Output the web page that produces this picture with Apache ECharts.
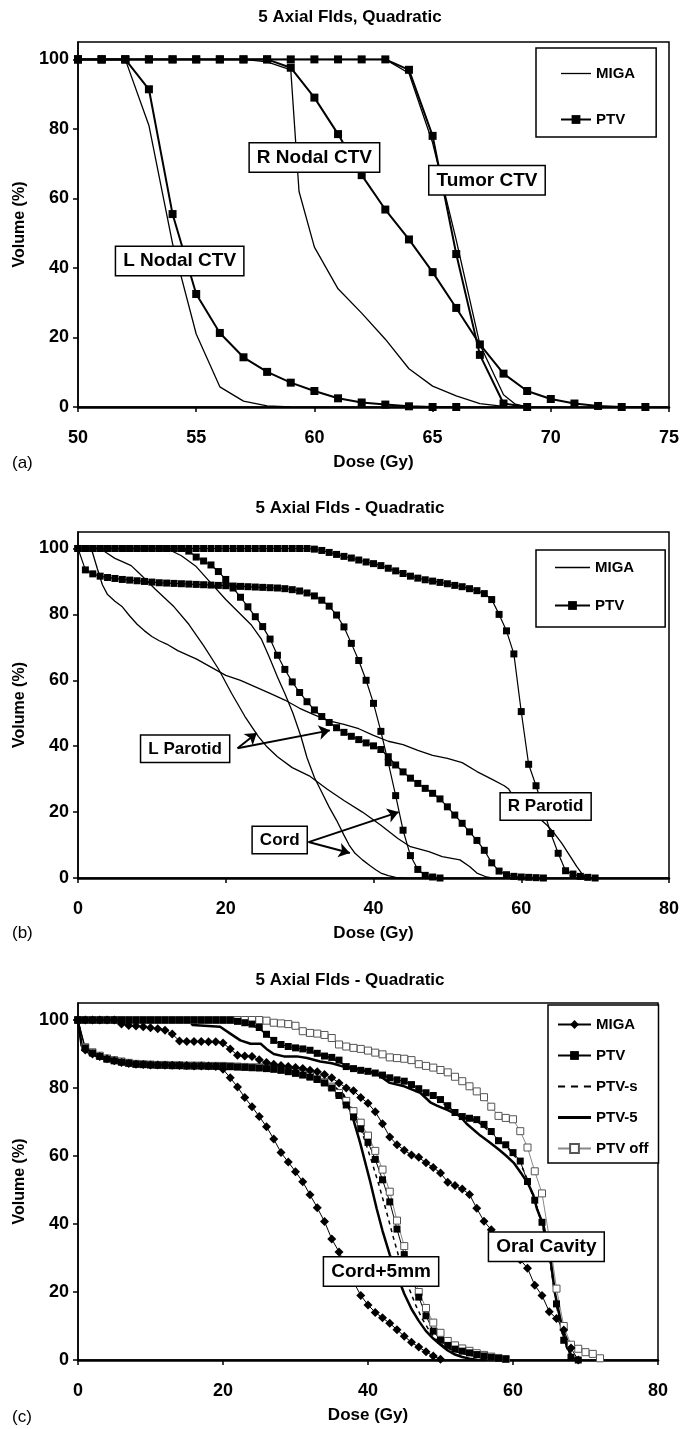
<!DOCTYPE html>
<html><head><meta charset="utf-8">
<script src="https://cdn.jsdelivr.net/npm/echarts@6/dist/echarts.min.js"></script>
<style>body{margin:0;background:#fff}.c{position:absolute;left:0;width:684px}</style>
</head><body>
<div id="ca" class="c" style="top:0;height:476px"></div>
<div id="cb" class="c" style="top:476px;height:476px"></div>
<div id="cc" class="c" style="top:952px;height:477px"></div>
<script>
// ---------------- DATA ----------------
const titleA = '5 Axial Flds, Quadratic';
const titleB = '5 Axial Flds - Quadratic';
const titleC = '5 Axial Flds - Quadratic';
const xNameAll = 'Dose (Gy)';
const yNameAll = 'Volume (%)';
const yTicks = [0, 20, 40, 60, 80, 100];
const xTicksA = [50, 55, 60, 65, 70, 75];
const xTicksBC = [0, 20, 40, 60, 80];

// panel (a)
const doseA = [50,51,52,53,54,55,56,57,58,59,60,61,62,63,64,65,66,67,68,69,70,71,72,73,74];
const aLNodalPTV = [100,100,100,91.4,55.5,32.5,21.3,14.3,10.1,7,4.6,2.5,1.3,0.7,0.2,0,0];
const aRNodalPTV = [100,100,100,100,100,100,100,100,100,97.6,89,78.5,66.7,56.8,48.2,38.8,28.5,18,9.6,4.6,2.3,1,0.3,0,0];
const aTumorPTV = [100,100,100,100,100,100,100,100,100,100,100,100,100,100,97,78,44,15,1,0];
const aLNodalMIGA = [[50,100],[52,100],[53,81],[54,47],[55,21],[56,5.8],[57,1.7],[58,0.3],[59,0]];
const aRNodalMIGA = [[50,100],[57,100],[58,99.3],[59,97],[59.35,62],[60,46],[61,34],[62,27],[63,19.5],[64,11],[65,6],[66,3.2],[67,1],[68,0.2],[69,0]];
const aTumorMIGA = [[50,100],[63,100],[64,96],[65,76],[66,48],[67,18],[68,3.5],[68.5,0.8],[69,0]];
const aNotes = [['R Nodal CTV', 60, 71.8], ['Tumor CTV', 67.3, 65.2], ['L Nodal CTV', 54.3, 42]];

// panel (b)
const doseB = [0,1,2,3,4,5,6,7,8,9,10,11,12,13,14,15,16,17,18,19,20,21,22,23,24,25,26,27,28,29,30,31,32,33,34,35,36,37,38,39,40,41,42,43,44,45,46,47,48,49,50,51,52,53,54,55,56,57,58,59,60,61,62,63,64,65,66,67,68,69,70];
const bRParotidPTV = [100,100,100,100,100,100,100,100,100,100,
  100,100,100,100,100,100,100,100,100,100,
  100,100,100,100,100,100,100,100,100,100,
  100,100,99.8,99.4,98.8,98.2,97.6,97.1,96.5,95.9,
  95.4,94.8,94,93.2,92.4,91.6,91,90.5,90.1,89.7,
  89.3,88.8,88.4,87.8,87.2,86.3,84.5,80,75,68,
  50.5,34.5,28,21,13.5,7.5,2.2,1.2,0.5,0.2,0];
const bLParotidPTV = [100,100,100,100,100,100,100,100,100,100,100,100,100,100,100,
  99.2,97.4,96.2,95,93,
  90.6,88,85.2,82.3,79.3,76.3,72.5,67.6,63.3,59.5,
  56.3,53.5,51,49,47.2,45.6,44.2,43,42,41,
  40.1,39,36.8,34.3,32.2,30.3,28.7,27.2,25.7,24,
  21.6,19.1,16.6,14,11.4,8.4,4.6,2.1,1,0.5,
  0.3,0.2,0.1,0];
const bCordPTV = [100,93.5,92.3,91.6,91.2,90.9,90.6,90.4,90.2,90,
  89.8,89.6,89.5,89.4,89.3,89.2,89.1,89,88.9,88.8,
  88.7,88.6,88.5,88.4,88.3,88.2,88.1,88,87.8,87.5,
  87.1,86.5,85.6,84.3,82.5,79.8,76.2,71.2,66,60,
  53,44.5,35,25,14.5,6.8,2.6,0.8,0.3,0];
const bRParotidMIGA = [[0,100],[1.8,100],[2.6,94],[3.3,89],[4,86],[5,84],[6,82.3],[7,79.5],[8,77],[9,75],[10,73.3],[11,72],[12,71],[13.5,69],[15,67.5],[16,66.5],[18,64],[20,61.5],[22,60],[24,58],[26,56],[28,54],[30,51.5],[32,49.5],[34,47.7],[36,46.6],[38,45.3],[40,43.3],[42,41.5],[44,40.5],[46,38.7],[48,37.2],[50,36.3],[52,35],[54,32.3],[56,30],[57.7,28],[58.3,27],[59.3,23.5],[60.5,21.5],[62,19],[63.5,16],[64.5,13.5],[65.5,10.5],[66.5,7],[67.5,3.5],[68.3,1],[69,0]];
const bLParotidMIGA = [[0,100],[3,100],[4,98.5],[5,97],[6,96],[7.2,94.8],[8.6,91.8],[10.4,87.8],[13,82.3],[15,77],[17,70.5],[19,63.5],[20.8,56],[22.6,49],[24.4,43],[25.5,40],[27,36.8],[29,33.5],[31.3,31],[33.7,27],[36,23.5],[38.5,20],[41,16],[43.3,12],[45,9.5],[47.5,8],[49.3,6.5],[51.7,5.5],[53,3.5],[54,1.5],[55.3,0.3],[56,0]];
const bCordMIGA = [[0,100],[12,100],[14,97.8],[16,94.5],[18,89.5],[20,84.5],[21.7,80.7],[23.5,76.7],[24.8,72.6],[25.9,67],[27,61],[28,56],[29.1,50],[30.2,42.8],[31,36.5],[32,30.5],[33,26],[34,21.5],[35,17.5],[36,13],[36.7,10],[37.5,7.5],[38.5,5.5],[39.5,3.8],[40.3,2.5],[41,1.5],[42,0.7],[43,0.2],[44,0]];
const bNotes = [['L Parotid', 14.5, 39.2], ['Cord', 27.3, 11.5], ['R Parotid', 63.3, 21.7]];
const bArrows = [[[21.6,39.4],[24.2,44]], [[21.6,39.4],[34.1,44.8]], [[31.2,10.9],[43.4,20]], [[31.2,10.9],[36.8,7.6]]];

// panel (c)
const doseC = [0,1,2,3,4,5,6,7,8,9,10,11,12,13,14,15,16,17,18,19,20,21,22,23,24,25,26,27,28,29,30,31,32,33,34,35,36,37,38,39,40,41,42,43,44,45,46,47,48,49,50,51,52,53,54,55,56,57,58,59,60,61,62,63,64,65,66,67,68,69,70,71,72];
const cCordMIGA = [100,91.2,90,89.3,88.6,88,87.5,87.2,87,86.9,
  86.8,86.8,86.7,86.7,86.6,86.6,86.5,86.5,86.5,86.3,
  85.5,83,80.3,77.2,74.5,71.6,68.6,65,61,58.2,
  55.4,52.4,48.6,44.8,40.7,35.6,31.8,27.5,23,19,
  16.2,14,12.4,10.8,8.9,7,5.2,3.8,2.4,1.2,0.2];
const cCordPTV = [100,91.8,90.3,89.3,88.5,88,87.6,87.3,87,86.9,
  86.8,86.7,86.7,86.6,86.6,86.5,86.5,86.5,86.4,86.4,
  86.4,86.3,86.2,86.1,86,85.9,85.7,85.5,85.2,84.8,
  84.3,83.8,83.2,82.5,81.5,80,77.8,75,71.5,68,
  64,59,53,46.5,38.5,31,24.5,18.5,13,8.5,
  5.8,4.3,3.2,2.6,2.1,1.6,1.2,0.8,0.5,0.3];
const cCordPTVs = [[0,100],[0.5,92.3],[1,91],[2,89.8],[4,88.3],[6,87.4],[10,86.8],[20,86.4],[25,86],[28,85.5],[30,84.7],[32,83.3],[34,81.5],[36,78.5],[37.5,75],[38.5,70.5],[39.5,65],[40.5,58.5],[41.5,51.5],[42.5,44],[43.5,36],[44.5,28.5],[45.5,22],[46.5,16.5],[47.5,12],[48.5,8.5],[49.5,5.8],[50.5,4],[52,2.5],[54,1.4],[56,0.7],[58,0.2],[59,0]];
const cCordPTV5 = [[0,100],[0.5,92.5],[1,91],[2,89.8],[3,89],[4,88.3],[6,87.3],[8,86.9],[12,86.6],[20,86.3],[25,86],[28,85.5],[30,84.8],[32,83.5],[34,81.8],[35.5,80],[36.6,78],[37.6,73.5],[38.9,64],[40.3,52.5],[41.2,44.5],[42,38],[43,31],[44,25],[45,19.5],[46,15],[47,11.5],[48,8.5],[49,6.3],[50,4.5],[51,2.8],[52,1.6],[53,0.9],[54,0.4],[55,0.1],[56,0]];
const cCordPTVoff = [100,92,90.5,89.5,88.7,88.2,87.8,87.4,87.1,87,
  86.9,86.8,86.8,86.7,86.7,86.6,86.6,86.6,86.5,86.5,
  86.5,86.4,86.3,86.2,86.1,86.1,86,85.8,85.5,85.2,
  84.8,84.2,83.5,82.7,81.7,80.4,78.5,76.2,73.2,69.8,
  66,61.5,56,49.5,41,33.5,26.5,20,15.3,11,
  8,5.6,4.3,3.4,2.7,2,1.5,1,0.6,0.3];
const cOralMIGA = [100,100,100,100,100,100,98.8,98.4,98.2,98,
  97.7,97.4,97,95.9,93.8,93.7,93.7,93.7,93.6,93.6,
  93.2,91.5,89.6,89.4,89.3,88.3,87.5,87,86.6,86.3,
  86,85.7,85.2,84.8,84,83,81.5,80,79.2,77.2,
  75.5,73,69.5,65.6,63.3,61.7,60.3,59.6,58,56.6,
  55,52.3,51.3,50.3,48.7,44.6,40.8,38.3,35.5,33.5,
  31.5,29.5,27,22,19,14.2,12.2,8.8,3.5,0];
const cOralPTV = [100,100,100,100,100,100,100,100,100,100,100,100,100,100,100,100,100,100,100,100,100,100,
  99.6,99.2,98.8,97.8,95.8,94,92.8,92.2,
  91.8,91.5,91.1,90.2,89.4,89,88.2,86.3,85.7,85.2,
  84.9,84.4,83.8,83,82.4,82,81,79.8,78.6,77.8,
  76.6,74.8,72.8,71.6,71.1,70.7,69.3,67.2,64.5,63.3,
  61,58.5,52.5,47,40.5,31,16.5,5.8,0.8,0];
const cOralPTVs = [[0,100],[21,100],[23,99],[25,97.5],[27,93.8],[29,92],[31,91.3],[33,90],[35,88.8],[37,86.5],[39,85.2],[41,84.3],[43,83],[45,81.8],[47,79.6],[49,77.5],[51,74.5],[53,71.3],[55,70.3],[57,66.8],[59,63],[61,58],[62,53],[63,46.5],[64,40],[65,30.5],[66,16],[67,5.5],[68,0.8],[69,0]];
const cOralPTV5 = [[0,100],[15.3,100],[15.8,98.5],[19.6,98],[21,96],[22.4,94],[23.8,93],[25.2,93],[26,91.5],[27,90],[28.4,89.3],[30.2,89.3],[31.6,88.8],[33.4,87.8],[35,87.3],[36.6,86.3],[38.9,85.4],[41.2,84.2],[43,81.5],[45,80.5],[47.2,78.6],[48.6,75.8],[49.5,74.8],[51,73.5],[52.7,71.7],[53.6,69.5],[55.5,66],[56.8,64],[58,62],[59.1,60],[60.1,58],[61.2,54.7],[62.1,51.8],[62.8,48.5],[63.3,44.5],[64.2,39.6],[65.1,30.8],[65.8,19.5],[66.7,10.3],[67.4,4.5],[68.1,1],[68.6,0]];
const cOralPTVoff = [100,100,100,100,100,100,100,100,100,100,100,100,100,100,100,100,100,100,100,100,100,100,100,100,100,100,
  99.8,99.2,99,98.8,
  98.3,96.7,96.2,96,95.6,94.7,92.8,92.2,91.8,91.5,
  91,90.4,89.9,89,88.8,88.6,88.2,87,86.5,86,
  85.3,84.6,83.3,82,80.5,79,77.3,74.5,71.8,71.2,
  70.8,67.3,62.5,55.5,49,36,21,10,4.5,3.3,
  2.3,1.8,0.5];
const cNotes = [['Cord+5mm', 41.8, 26], ['Oral Cavity', 64.6, 33.3]];

// ---------------- STYLE / BUILD ----------------
const FF = "'Liberation Sans', Arial, Helvetica, sans-serif";
const zip = (xs, ys) => ys.map((v, i) => [xs[i], v]);
const ICON_THIN = 'path://M0,0H30V1.3H0Z';
const ICON_DASH = 'path://M0,0H6V1.6H0Z M11,0H17V1.6H11Z M22,0H28V1.6H22Z';
const ICON_THICK = 'path://M0,0H33V3H0Z';

function lineS(name, data, w, extra) {
  return Object.assign({type:'line', name, data, symbol:'none', showSymbol:false,
    lineStyle:{color:'#000', width:w}, itemStyle:{color:'#000'}, silent:true}, extra || {});
}
function markS(name, data, sym, size, w, fill, stroke, lineColor) {
  return {type:'line', name, data, symbol:sym, symbolSize:size, showAllSymbol:true, silent:true,
    lineStyle:{color:lineColor || '#000', width:w},
    itemStyle:{color:fill, borderColor:stroke, borderWidth: fill === '#fff' ? 1 : 0}};
}
function notesMP(notes, fs) {
  return {symbol:'circle', symbolSize:1, silent:true, itemStyle:{color:'rgba(0,0,0,0)'},
    label:{show:true, position:'inside', formatter:'{b}', color:'#000', fontFamily:FF, fontWeight:'bold',
      fontSize:fs, backgroundColor:'#fff', borderColor:'#000', borderWidth:1.5, padding:[5,7,4,7]},
    data: notes.map(n => ({name:n[0], coord:[n[1], n[2]]}))};
}
function xAx(min, max, interval, ticks) {
  return {type:'value', min, max, interval,
    axisLine:{show:true, onZero:false, lineStyle:{color:'#000', width:2.5}},
    axisTick:{show:true, length:5, customValues:ticks, lineStyle:{color:'#000', width:1.5}},
    axisLabel:{color:'#000', fontSize:18, fontWeight:'bold', fontFamily:FF, margin:22, customValues:ticks},
    splitLine:{show:false},
    name:xNameAll, nameLocation:'middle', nameGap:47,
    nameTextStyle:{color:'#000', fontSize:17, fontWeight:'bold', fontFamily:FF}};
}
function yAx() {
  return {type:'value', min:0, max:105,
    axisLine:{show:true, lineStyle:{color:'#000', width:1.5}},
    axisTick:{show:true, length:5, customValues:yTicks, lineStyle:{color:'#000', width:1.5}},
    axisLabel:{color:'#000', fontSize:18, fontWeight:'bold', fontFamily:FF, margin:9, customValues:yTicks},
    splitLine:{show:false},
    name:yNameAll, nameLocation:'middle', nameGap:39,
    nameTextStyle:{color:'#000', fontSize:16, fontWeight:'bold', fontFamily:FF}};
}
function texts(title, ty, tag, tagY) {
  return [
    {type:'text', x:350, y:ty, style:{text:title, fill:'#000', font:'bold 17px ' + FF, textAlign:'center', textVerticalAlign:'middle'}},
    {type:'text', x:12, y:tagY, style:{text:tag, fill:'#000', font:'17px ' + FF, textAlign:'left', textVerticalAlign:'middle'}}
  ];
}
function legendCfg(items, left, top, pad, gap, iw) {
  return {data:items, orient:'vertical', left, top, padding:pad, itemGap:gap, itemWidth:iw, itemHeight:11,
    borderColor:'#000', borderWidth:1.5, backgroundColor:'#fff', selectedMode:false,
    textStyle:{color:'#000', fontSize:15, fontWeight:'bold', fontFamily:FF}};
}
const gridBox = {show:true, borderColor:'#000', borderWidth:1.5, backgroundColor:'#fff'};

// chart (a)
const chA = echarts.init(document.getElementById('ca'), null, {renderer:'canvas'});
const sA = [
  lineS('MIGA', aLNodalMIGA, 1.3),
  lineS('MIGA', aRNodalMIGA, 1.3),
  lineS('MIGA', aTumorMIGA, 1.3),
  markS('PTV', zip(doseA, aLNodalPTV), 'rect', 8, 2, '#000', '#000'),
  markS('PTV', zip(doseA, aRNodalPTV), 'rect', 8, 2, '#000', '#000'),
  markS('PTV', zip(doseA, aTumorPTV), 'rect', 8, 2, '#000', '#000')
];
sA[5].markPoint = notesMP(aNotes, 19);
chA.setOption({animation:false, textStyle:{fontFamily:FF},
  grid:Object.assign({left:78, top:42, width:591, height:366}, gridBox),
  xAxis:xAx(50, 75, 5, xTicksA), yAxis:yAx(),
  legend:legendCfg([{name:'MIGA', icon:ICON_THIN}, 'PTV'], 536, 48, [18,21,10,24], 31, 30),
  graphic:texts(titleA, 17, '(a)', 463),
  series:sA});

// chart (b)
const chB = echarts.init(document.getElementById('cb'), null, {renderer:'canvas'});
const sB = [
  lineS('MIGA', bRParotidMIGA, 1.3),
  lineS('MIGA', bLParotidMIGA, 1.3),
  lineS('MIGA', bCordMIGA, 1.3),
  markS('PTV', zip(doseB, bRParotidPTV), 'rect', 7, 1.2, '#000', '#000'),
  markS('PTV', zip(doseB, bLParotidPTV), 'rect', 7, 1.2, '#000', '#000'),
  markS('PTV', zip(doseB, bCordPTV), 'rect', 7, 1.2, '#000', '#000')
];
sB[5].markPoint = notesMP(bNotes, 17);
sB[5].markLine = {symbol:['none','arrow'], symbolSize:11, silent:true, label:{show:false},
  lineStyle:{color:'#000', width:2, type:'solid'},
  data: bArrows.map(a => [{coord:a[0]}, {coord:a[1]}])};
chB.setOption({animation:false, textStyle:{fontFamily:FF},
  grid:Object.assign({left:78, top:56, width:591, height:346}, gridBox),
  xAxis:xAx(0, 80, 20, xTicksBC), yAxis:yAx(),
  legend:legendCfg([{name:'MIGA', icon:ICON_THIN}, 'PTV'], 536, 74, [10,31,14,18], 23, 35),
  graphic:texts(titleB, 32, '(b)', 457),
  series:sB});

// chart (c)
const chC = echarts.init(document.getElementById('cc'), null, {renderer:'canvas'});
const sC = [
  markS('PTV off', zip(doseC, cCordPTVoff), 'rect', 7, 1, '#fff', '#555', '#888'),
  markS('PTV off', zip(doseC, cOralPTVoff), 'rect', 7, 1, '#fff', '#555', '#888'),
  lineS('PTV-s', cCordPTVs, 1.5, {lineStyle:{color:'#000', width:1.5, type:[4,4]}}),
  lineS('PTV-s', cOralPTVs, 1.5, {lineStyle:{color:'#000', width:1.5, type:[4,4]}}),
  lineS('PTV-5', cCordPTV5, 2.5),
  lineS('PTV-5', cOralPTV5, 2.5),
  markS('PTV', zip(doseC, cCordPTV), 'rect', 7, 1, '#000', '#000'),
  markS('PTV', zip(doseC, cOralPTV), 'rect', 7, 1, '#000', '#000'),
  markS('MIGA', zip(doseC, cCordMIGA), 'diamond', 9, 1, '#000', '#000'),
  markS('MIGA', zip(doseC, cOralMIGA), 'diamond', 9, 1, '#000', '#000')
];
sC[9].markPoint = notesMP(cNotes, 19);
chC.setOption({animation:false, textStyle:{fontFamily:FF},
  grid:Object.assign({left:78, top:51, width:580, height:359}, gridBox),
  xAxis:xAx(0, 80, 20, xTicksBC), yAxis:yAx(),
  legend:legendCfg(['MIGA','PTV',{name:'PTV-s', icon:ICON_DASH},{name:'PTV-5', icon:ICON_THICK},'PTV off'], 548, 53, [12,10,7,9], 16, 33),
  graphic:texts(titleC, 28, '(c)', 465),
  series:sC});
</script>
</body></html>
